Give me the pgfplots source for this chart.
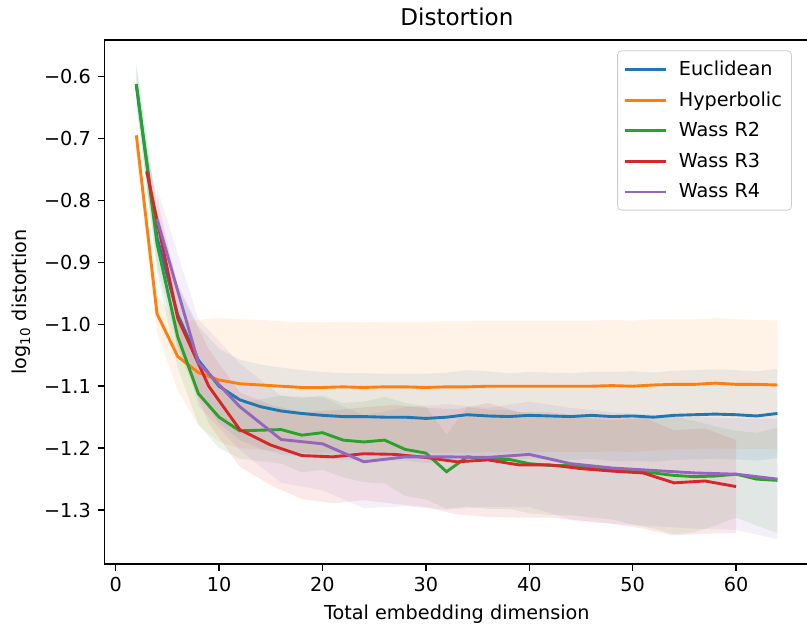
\documentclass[border=0pt]{standalone}
\usepackage{fontspec}
\setmainfont{DejaVu Sans}
\usepackage{pgfplots}
\usepackage{pgfplotstable}
\usepgfplotslibrary{fillbetween}
\pgfplotsset{compat=1.18}

\definecolor{c1}{HTML}{1F77B4}
\definecolor{c2}{HTML}{FF7F0E}
\definecolor{c3}{HTML}{2CA02C}
\definecolor{c4}{HTML}{D62728}
\definecolor{c5}{HTML}{9467BD}

% x, mean, std
\pgfplotstableread{
x m s
2 -0.615 0.035
4 -0.860 0.045
6 -0.985 0.050
8 -1.058 0.055
10 -1.100 0.060
12 -1.122 0.065
14 -1.133 0.068
16 -1.140 0.070
18 -1.144 0.070
20 -1.147 0.070
22 -1.149 0.070
24 -1.149 0.070
26 -1.150 0.070
28 -1.150 0.070
30 -1.152 0.072
32 -1.150 0.072
34 -1.146 0.072
36 -1.148 0.072
38 -1.149 0.070
40 -1.147 0.070
42 -1.148 0.070
44 -1.149 0.070
46 -1.147 0.070
48 -1.149 0.072
50 -1.148 0.072
52 -1.150 0.072
54 -1.147 0.072
56 -1.146 0.072
58 -1.145 0.072
60 -1.146 0.072
62 -1.148 0.072
64 -1.144 0.072
}\eucl

\pgfplotstableread{
x m s
2 -0.695 0.020
4 -0.983 0.030
6 -1.052 0.055
8 -1.078 0.085
10 -1.090 0.100
12 -1.096 0.104
14 -1.098 0.105
16 -1.100 0.105
18 -1.102 0.105
20 -1.102 0.105
22 -1.101 0.105
24 -1.102 0.105
26 -1.101 0.105
28 -1.101 0.105
30 -1.102 0.106
32 -1.101 0.106
34 -1.101 0.106
36 -1.100 0.106
38 -1.100 0.106
40 -1.100 0.106
42 -1.100 0.106
44 -1.100 0.106
46 -1.100 0.106
48 -1.099 0.106
50 -1.100 0.106
52 -1.098 0.106
54 -1.097 0.105
56 -1.097 0.105
58 -1.095 0.105
60 -1.097 0.105
62 -1.097 0.104
64 -1.098 0.104
}\hyp

\pgfplotstableread{
x m s
2 -0.612 0.030
4 -0.870 0.045
6 -1.020 0.050
8 -1.112 0.050
10 -1.150 0.050
12 -1.172 0.045
14 -1.171 0.050
16 -1.170 0.055
18 -1.179 0.060
20 -1.175 0.060
22 -1.187 0.060
24 -1.190 0.065
26 -1.187 0.070
28 -1.202 0.075
30 -1.208 0.075
32 -1.238 0.060
34 -1.214 0.080
36 -1.218 0.080
38 -1.218 0.080
40 -1.225 0.080
42 -1.228 0.080
44 -1.228 0.080
46 -1.232 0.080
48 -1.235 0.080
50 -1.238 0.085
52 -1.240 0.090
54 -1.244 0.095
56 -1.246 0.090
58 -1.245 0.080
60 -1.242 0.070
62 -1.250 0.075
64 -1.252 0.085
}\wtwo

\pgfplotstableread{
x m s
3 -0.753 0.030
6 -0.990 0.050
9 -1.100 0.060
12 -1.170 0.060
15 -1.195 0.065
18 -1.212 0.070
21 -1.214 0.075
24 -1.209 0.075
27 -1.210 0.080
30 -1.215 0.080
33 -1.222 0.085
36 -1.219 0.092
39 -1.227 0.085
42 -1.227 0.085
45 -1.233 0.085
48 -1.237 0.085
51 -1.240 0.090
54 -1.256 0.085
57 -1.253 0.085
60 -1.262 0.075
}\wthree

\pgfplotstableread{
x m s
4 -0.830 0.050
8 -1.062 0.070
12 -1.133 0.070
16 -1.186 0.070
20 -1.193 0.075
24 -1.222 0.075
28 -1.214 0.080
32 -1.214 0.085
36 -1.215 0.080
40 -1.210 0.085
44 -1.225 0.090
48 -1.232 0.090
52 -1.236 0.090
56 -1.240 0.090
60 -1.242 0.090
64 -1.250 0.097
}\wfour

\begin{document}
\begin{tikzpicture}
\begin{axis}[
  name=ax,
  scale only axis,
  width=366.7pt, height=272.5pt,
  xmin=-1.1, xmax=67.1,
  ymin=-1.387, ymax=-0.541,
  xtick={0,10,...,60},
  ytick={-1.3,-1.2,-1.1,-1.0,-0.9,-0.8,-0.7,-0.6},
  yticklabels={−1.3,−1.2,−1.1,−1.0,−0.9,−0.8,−0.7,−0.6},
  /pgf/number format/assume math mode=true,
  tick align=outside,
  major tick length=3.5pt,
  xtick pos=bottom, ytick pos=left,
  axis line style={line width=0.8pt},
  every tick/.style={black, line width=0.8pt},
  tick label style={font=\fontsize{10}{12}\selectfont},
  label style={font=\fontsize{10}{12}\selectfont},
  title style={font=\fontsize{12}{14}\selectfont, yshift=-2pt},
  title={Distortion},
  xlabel={Total embedding dimension},
  ylabel={log\textsubscript{10} distortion},
  legend cell align=left,
  legend style={at={(0.975,0.98)}, anchor=north east,
    draw=black!20, rounded corners=2pt, fill=white, fill opacity=0.8, text opacity=1,
    font=\fontsize{10}{12}\selectfont, row sep=3pt, inner sep=3pt,
    /tikz/every odd column/.append style={column sep=4pt}},
  legend image code/.code={\draw[#1] (0cm,0cm) -- (0.75cm,0cm);},
]
% bands
\addplot[draw=none, name path=a1, forget plot] table[x=x, y expr=\thisrow{m}+\thisrow{s}] {\eucl};
\addplot[draw=none, name path=b1, forget plot] table[x=x, y expr=\thisrow{m}-\thisrow{s}] {\eucl};
\addplot[fill=c1, fill opacity=0.1, draw=none, forget plot] fill between[of=a1 and b1];
\addplot[draw=none, name path=a2, forget plot] table[x=x, y expr=\thisrow{m}+\thisrow{s}] {\hyp};
\addplot[draw=none, name path=b2, forget plot] table[x=x, y expr=\thisrow{m}-\thisrow{s}] {\hyp};
\addplot[fill=c2, fill opacity=0.1, draw=none, forget plot] fill between[of=a2 and b2];
\addplot[draw=none, name path=a3, forget plot] table[x=x, y expr=\thisrow{m}+\thisrow{s}] {\wtwo};
\addplot[draw=none, name path=b3, forget plot] table[x=x, y expr=\thisrow{m}-\thisrow{s}] {\wtwo};
\addplot[fill=c3, fill opacity=0.1, draw=none, forget plot] fill between[of=a3 and b3];
\addplot[draw=none, name path=a4, forget plot] table[x=x, y expr=\thisrow{m}+\thisrow{s}] {\wthree};
\addplot[draw=none, name path=b4, forget plot] table[x=x, y expr=\thisrow{m}-\thisrow{s}] {\wthree};
\addplot[fill=c4, fill opacity=0.1, draw=none, forget plot] fill between[of=a4 and b4];
\addplot[draw=none, name path=a5, forget plot] table[x=x, y expr=\thisrow{m}+\thisrow{s}] {\wfour};
\addplot[draw=none, name path=b5, forget plot] table[x=x, y expr=\thisrow{m}-\thisrow{s}] {\wfour};
\addplot[fill=c5, fill opacity=0.1, draw=none, forget plot] fill between[of=a5 and b5];
% means
\addplot[c1, line width=1.5pt] table[x=x, y=m] {\eucl};
\addlegendentry{Euclidean}
\addplot[c2, line width=1.5pt] table[x=x, y=m] {\hyp};
\addlegendentry{Hyperbolic}
\addplot[c3, line width=1.5pt] table[x=x, y=m] {\wtwo};
\addlegendentry{Wass R2}
\addplot[c4, line width=1.5pt] table[x=x, y=m] {\wthree};
\addlegendentry{Wass R3}
\addplot[c5, line width=1.5pt] table[x=x, y=m] {\wfour};
\addlegendentry{Wass R4}
\end{axis}
\pgfresetboundingbox
\path (ax.south west) ++(-54.24pt,-32.76pt) rectangle ++(419.64pt,326.04pt);
\end{tikzpicture}
\end{document}
